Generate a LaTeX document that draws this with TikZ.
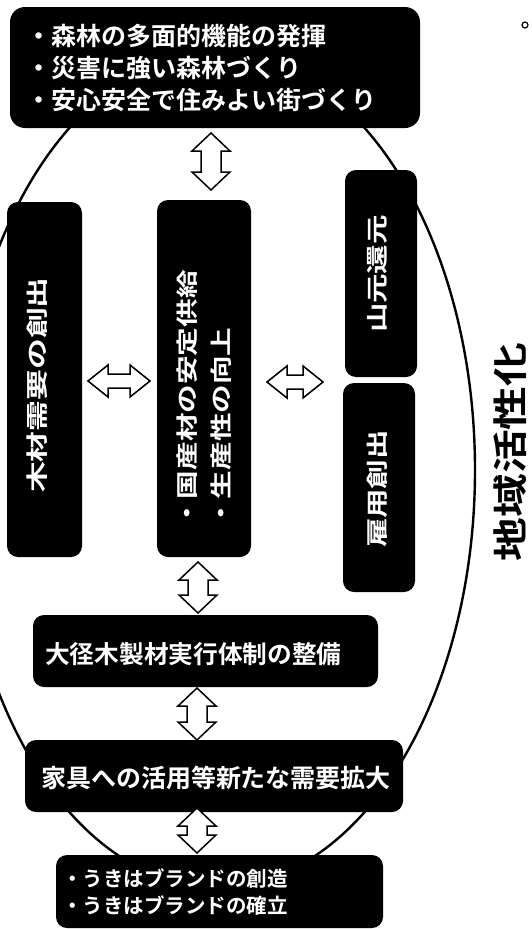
\documentclass[tikz,border=0pt]{standalone}
\usepackage{fontspec}
\setmainfont{Noto Sans CJK JP}[BoldFont={Noto Sans CJK JP Bold}]
\usepackage{graphicx}
\newcommand\vdbl[3]{% center x, top y, bottom y
  \draw[hollowarr] (#1,#2) -- ++(19,18) -- ++(-9,0) -- (#1+10,#3-18) -- ++(9,0) -- (#1,#3)
    -- ++(-19,-18) -- ++(9,0) -- (#1-10,#2+18) -- ++(-9,0) -- cycle;}
\newcommand\hdbl[3]{% center y, left x, right x
  \draw[hollowarr] (#2,#1) -- ++(20,-16) -- ++(0,9) -- (#3-20,#1-7) -- ++(0,-9) -- (#3,#1)
    -- ++(-20,16) -- ++(0,-9) -- (#2+20,#1+7) -- ++(0,9) -- cycle;}
\newcommand\vtext[2]{\rotatebox{90}{\scalebox{#1}[1]{#2}}}
\tikzset{
  blk/.style={fill=black, rounded corners=11pt, inner sep=0pt, text=white},
  wtxt/.style={text=white, inner sep=0pt},
  hollowarr/.style={draw=black, fill=white, line width=1.5pt, line join=miter},
  ring/.style={draw=black, line width=2.4pt},
}
\begin{document}
\begin{tikzpicture}[x=1pt,y=-1pt]
\useasboundingbox (0,0) rectangle (532,929);
\clip (0,0) rectangle (532,929);
\fill[white] (0,0) rectangle (532,929);
% big ellipse
\draw[ring] (217,470) ellipse [x radius=258, y radius=417];
% top box
\node[blk, rounded corners=15pt, minimum height=121pt, text width=376pt, inner xsep=17pt, align=left,
  font=\fontsize{25}{32}\selectfont\bfseries] (top) at (215,67.5)
  {・森林の多面的機能の発揮\\・災害に強い森林づくり\\・安心安全で住みよい街づくり};
% vertical boxes
\node[blk, minimum width=75pt, minimum height=355pt] (lb) at (44.5,379.5) {};
\node[wtxt, font=\fontsize{22}{34}\selectfont\bfseries] (lbt) at (37.5,385) {\vtext{1.4}{木材需要の創出}};
\node[blk, minimum width=94pt, minimum height=357pt] (mb) at (204,378.5) {};
\node[wtxt, font=\fontsize{22}{34}\selectfont\bfseries] (mbt) at (205.5,399)
  {\vtext{1.3}{\begin{tabular}{@{}l@{}}・国産材の安定供給\\・生産性の向上\end{tabular}}};
\node[blk, minimum width=72pt, minimum height=207pt] (rt) at (381,273.5) {};
\node[wtxt, font=\fontsize{22}{34}\selectfont\bfseries] (rtt) at (377,274) {\vtext{1.34}{山元還元}};
\node[blk, minimum width=72pt, minimum height=209pt] (rl) at (379,487.5) {};
\node[wtxt, font=\fontsize{22}{34}\selectfont\bfseries] (rlt) at (377,489) {\vtext{1.34}{雇用創出}};
% horizontal boxes
\node[blk, minimum width=345pt, minimum height=72pt] (ok) at (205.5,651) {};
\node[wtxt, anchor=west, font=\fontsize{24.7}{30}\selectfont\bfseries] (okt) at (45,654) {大径木製材実行体制の整備};
\node[blk, minimum width=378pt, minimum height=72pt] (kg) at (214,776) {};
\node[wtxt, font=\fontsize{25}{30}\selectfont\bfseries] (kgt) at (216,778) {家具への活用等新たな需要拡大};
\node[blk, minimum width=327pt, minimum height=73pt] (ub) at (219.5,891.5) {};
\node[wtxt, anchor=west, align=left, font=\fontsize{20.5}{27}\selectfont\bfseries] (ubt) at (62,892.5)
  {・うきはブランドの創造\\・うきはブランドの確立};
% label
\node[inner sep=0pt, font=\fontsize{35}{40}\selectfont\bfseries] (lab) at (510,452) {\vtext{1.25}{地域活性化}};
% stray mark
\draw[line width=1.2pt] (525,25) circle [radius=3];
% double arrows
\vdbl{211}{133}{190}
\hdbl{381}{88}{150}
\hdbl{382}{267}{323}
\vdbl{198}{562}{613}
\vdbl{197}{688}{740}
\vdbl{197}{808}{853}
\end{tikzpicture}
\end{document}
